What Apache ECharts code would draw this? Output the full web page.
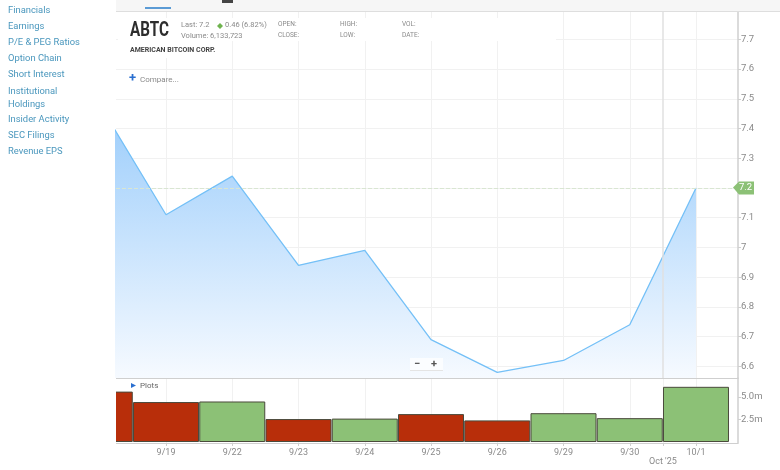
<!DOCTYPE html>
<html>
<head>
<meta charset="utf-8">
<script src="https://cdn.jsdelivr.net/npm/echarts@6/dist/echarts.min.js"></script>
<style>
  html, body { margin: 0; padding: 0; background: #fff; }
  #chart { position: absolute; left: 0; top: 0; width: 780px; height: 470px; }
  #side { position: absolute; left: 8px; top: 2px; width: 90px; font: 9.4px/16px Roboto, sans-serif; color: #4a97bd; }
  #side div.two { line-height: 13px; padding: 2px 0 1px; }
</style>
</head>
<body>
<div id="chart"></div>
<div id="side">
  <div>Financials</div>
  <div>Earnings</div>
  <div>P/E &amp; PEG Ratios</div>
  <div>Option Chain</div>
  <div>Short Interest</div>
  <div class="two">Institutional<br>Holdings</div>
  <div>Insider Activity</div>
  <div>SEC Filings</div>
  <div>Revenue EPS</div>
</div>
<script>
// data
const categories = ['9/18', '9/19', '9/22', '9/23', '9/24', '9/25', '9/26', '9/29', '9/30', '10/1'];
const closes = [7.48, 7.11, 7.24, 6.94, 6.99, 6.69, 6.58, 6.62, 6.74, 7.2];
const volumes = [5.6, 4.44, 4.5, 2.55, 2.6, 3.1, 2.4, 3.2, 2.65, 6.13];
const volumeUp = [false, false, true, false, true, false, false, true, true, true];
const priceTicks = [6.6, 6.7, 6.8, 6.9, 7, 7.1, 7.2, 7.3, 7.4, 7.5, 7.6, 7.7];
const volumeTicks = [2.5, 5];
const dayTicks = [1, 2, 3, 4, 5, 6, 7, 8, 9];
const monthTick = 8.5;
const monthLabel = "Oct '25";

const last = closes[closes.length - 1];
const xMin = 0.245, xMax = 9.634;
const font = 'Roboto, sans-serif';
const gridColor = '#f1f1f1';
const axisColor = '#cfcfcf';
const textColor = '#8a8a8a';

function txt(x, y, text, size, color, weight, extra) {
  return Object.assign({
    type: 'text', x: x, y: y, z: 20,
    style: { text: text, fontSize: size, fill: color || textColor, fontWeight: weight || 'normal', fontFamily: font, verticalAlign: 'middle' }
  }, extra);
}

var myChart = echarts.init(document.getElementById('chart'), null, { renderer: 'canvas' });
myChart.setOption({
  animation: false,
  grid: [
    { left: 116, right: 42, top: 12, height: 366 },
    { left: 116, right: 42, top: 378, height: 65 }
  ],
  xAxis: [
    {
      type: 'value', gridIndex: 0, min: xMin, max: xMax, position: 'bottom',
      axisLine: { show: true, onZero: false, lineStyle: { color: axisColor } },
      axisTick: { show: false, customValues: dayTicks },
      axisLabel: { show: false },
      splitLine: { show: true, lineStyle: { color: gridColor } }
    },
    {
      type: 'value', gridIndex: 1, min: xMin, max: xMax,
      axisLine: { show: true, onZero: false, lineStyle: { color: axisColor } },
      axisTick: { show: true, length: 3, customValues: dayTicks.concat([monthTick]), lineStyle: { color: axisColor } },
      axisLabel: {
        show: true, customValues: dayTicks.concat([monthTick]), color: textColor, fontSize: 9, fontFamily: font, margin: 5, lineHeight: 9,
        formatter: v => v === monthTick ? '\n' + monthLabel : categories[v]
      },
      splitLine: { show: true, lineStyle: { color: gridColor } }
    }
  ],
  yAxis: [
    {
      type: 'value', gridIndex: 0, position: 'right', min: 6.561, max: 7.792,
      axisLine: { show: true, lineStyle: { color: axisColor, width: 1.5 } },
      axisTick: { show: true, length: 3, customValues: priceTicks, lineStyle: { color: axisColor } },
      axisLabel: { customValues: priceTicks, color: textColor, fontSize: 9.5, fontFamily: font, margin: 3 },
      splitLine: { show: true, lineStyle: { color: gridColor } }
    },
    {
      type: 'value', gridIndex: 1, position: 'right', min: -0.11, max: 7.11,
      axisLine: { show: true, lineStyle: { color: axisColor, width: 1.5 } },
      axisTick: { show: true, length: 3, customValues: volumeTicks, lineStyle: { color: axisColor } },
      axisLabel: { customValues: volumeTicks, color: textColor, fontSize: 9.5, fontFamily: font, margin: 3, formatter: v => v.toFixed(1) + 'm' },
      splitLine: { show: false }
    }
  ],
  series: [
    {
      type: 'line', xAxisIndex: 0, yAxisIndex: 0, symbol: 'none', silent: true, clip: true,
      data: closes.map((v, i) => [i, v]),
      lineStyle: { color: '#74c0f7', width: 1.3 },
      areaStyle: {
        origin: 'start',
        opacity: 1,
        color: new echarts.graphic.LinearGradient(0, 0, 0, 1, [
          { offset: 0, color: '#9accfb' },
          { offset: 1, color: '#f6faff' }
        ])
      },
      markLine: {
        silent: true, symbol: 'none', animation: false,
        data: [
          { yAxis: last, lineStyle: { color: '#d9e6d2', type: 'dashed', width: 1 }, label: { show: false } },
          { xAxis: monthTick, lineStyle: { color: '#e0e0e0', type: 'solid', width: 1.5 }, label: { show: false } }
        ]
      },
      markPoint: {
        silent: true, animation: false,
        symbol: 'path://M0 6 L6 0 L21 0 L21 13 L6 13 Z',
        symbolSize: [21, 13], symbolOffset: [5.5, 0], symbolKeepAspect: false,
        itemStyle: { color: '#8cc176' },
        label: { show: true, color: '#fff', fontSize: 9.5, fontFamily: font, formatter: String(last), offset: [2, 0] },
        data: [{ coord: [xMax, last] }]
      }
    },
    {
      type: 'bar', xAxisIndex: 1, yAxisIndex: 1, silent: true, clip: true, barWidth: 66,
      data: volumes.map((v, i) => ({
        value: [i, v],
        itemStyle: { color: volumeUp[i] ? '#8cc176' : '#b82e0a', borderColor: '#4a4a3c', borderWidth: 1 }
      }))
    }
  ],
  graphic: [
    // toolbar strip clipped by the top of the page
    { type: 'rect', z: 18, shape: { x: 116, y: 0, width: 664, height: 11 }, style: { fill: '#f6f6f6' } },
    { type: 'rect', z: 19, shape: { x: 116, y: 11, width: 664, height: 1 }, style: { fill: '#dedede' } },
    { type: 'rect', z: 19, shape: { x: 145, y: 7, width: 26, height: 2 }, style: { fill: '#5b9bd5' } },
    { type: 'rect', z: 19, shape: { x: 222, y: 0, width: 11, height: 3 }, style: { fill: '#444' } },
    // the 9/18 bar is cut off at the left edge of the plot
    { type: 'rect', z: 18, shape: { x: 50, y: 378, width: 66, height: 70 }, style: { fill: '#fff' } },
    // header box over the grid
    { type: 'rect', z: 18, shape: { x: 118, y: 18, width: 438, height: 23 }, style: { fill: '#fff' } },
    { type: 'rect', z: 18, shape: { x: 118, y: 41, width: 110, height: 17 }, style: { fill: '#fff' } },
    txt(130, 31, 'ABTC', 20, '#2d2d2d', 'bold', { scaleX: 0.76 }),
    txt(130, 50, 'AMERICAN BITCOIN CORP.', 7, '#444', 'bold'),
    txt(181, 25, 'Last: 7.2', 7.5),
    txt(181, 36, 'Volume: 6,133,723', 7.5),
    { type: 'polygon', z: 20, shape: { points: [[220, 23], [223, 26], [220, 29], [217, 26]] }, style: { fill: '#6fb34f' } },
    txt(225, 25, '0.46 (6.82%)', 7.5),
    txt(278, 24, 'OPEN:', 6.5),
    txt(278, 35, 'CLOSE:', 6.5),
    txt(340, 24, 'HIGH:', 6.5),
    txt(340, 35, 'LOW:', 6.5),
    txt(402, 24, 'VOL:', 6.5),
    txt(402, 35, 'DATE:', 6.5),
    txt(129, 79, '+', 13, '#2a6fd0', 'bold'),
    txt(140, 80, 'Compare...', 8),
    { type: 'polygon', z: 20, shape: { points: [[131, 383], [136, 385.5], [131, 388]] }, style: { fill: '#2a6fd0' } },
    txt(140, 386, 'Plots', 8, '#666'),
    // zoom buttons
    { type: 'rect', z: 18, shape: { x: 410, y: 358, width: 33, height: 13 }, style: { fill: '#fbfdff' } },
    { type: 'rect', z: 19, shape: { x: 410, y: 370, width: 33, height: 1 }, style: { fill: '#e4e4e4' } },
    txt(414, 364, '−', 11, '#555', 'bold'),
    txt(431, 364, '+', 11, '#555', 'bold')
  ]
});
</script>
</body>
</html>
